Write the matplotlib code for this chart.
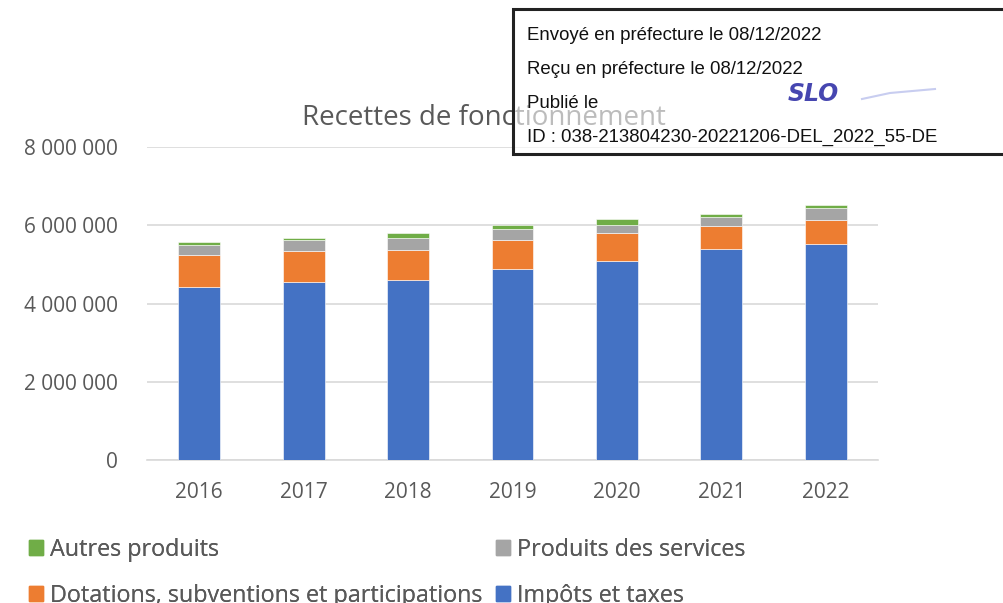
import matplotlib.pyplot as plt
from matplotlib.patches import Patch, Rectangle
import numpy as np

years = ['2016', '2017', '2018', '2019', '2020', '2021', '2022']
impots = [4420000, 4540000, 4610000, 4890000, 5090000, 5390000, 5510000]
dotations = [820000, 800000, 750000, 740000, 700000, 590000, 620000]
services = [250000, 280000, 320000, 280000, 220000, 240000, 320000]
autres = [90000, 50000, 120000, 100000, 160000, 80000, 60000]

colors = {'impots': '#4472C4', 'dotations': '#ED7D31', 'services': '#A5A5A5', 'autres': '#70AD47'}
txt = '#595959'
font = 'Open Sans'

fig = plt.figure(figsize=(10.04, 6.03), dpi=100)
ax = fig.add_axes([147 / 1004, 1 - 460 / 603, 731 / 1004, 313 / 603])

x = np.arange(len(years))
w = 0.4
b1 = np.array(impots)
b2 = b1 + np.array(dotations)
b3 = b2 + np.array(services)
ax.bar(x, impots, w, color=colors['impots'], edgecolor='white', linewidth=0.4, zorder=3)
ax.bar(x, dotations, w, bottom=b1, color=colors['dotations'], edgecolor='white', linewidth=0.4, zorder=3)
ax.bar(x, services, w, bottom=b2, color=colors['services'], edgecolor='white', linewidth=0.4, zorder=3)
ax.bar(x, autres, w, bottom=b3, color=colors['autres'], edgecolor='white', linewidth=0.4, zorder=3)

ax.set_xlim(-0.5, len(years) - 0.5)
ax.set_ylim(0, 8000000)
ax.set_yticks([0, 2000000, 4000000, 6000000, 8000000])
ax.set_yticklabels(['0', '2 000 000', '4 000 000', '6 000 000', '8 000 000'])
ax.set_xticks(x)
ax.set_xticklabels(years)
ax.grid(axis='y', color='#D9D9D9', linewidth=1.2, zorder=0)
for s in ['top', 'right', 'left']:
    ax.spines[s].set_visible(False)
ax.spines['bottom'].set_color('#D9D9D9')
ax.spines['bottom'].set_linewidth(1.2)
ax.tick_params(length=0, labelsize=15, labelcolor=txt)
ax.tick_params(axis='x', pad=16)
ax.tick_params(axis='y', pad=21)
for lab in ax.get_xticklabels() + ax.get_yticklabels():
    lab.set_fontfamily(font)

# title, partly seen through the stamp
fig.text(484 / 1004, 1 - 118 / 603, 'Recettes de fonctionnement', ha='center', va='center',
         fontsize=20, color=txt, family=font, zorder=5)

# stamp box (semi-transparent fill)
fig.add_artist(Rectangle((513 / 1004, 1 - 154 / 603), 600 / 1004, 145 / 603,
                         transform=fig.transFigure, facecolor=(1, 1, 1, 0.6), edgecolor='#222222',
                         linewidth=2.2, zorder=10))
stamp = ['Envoyé en préfecture le 08/12/2022', 'Reçu en préfecture le 08/12/2022',
         'Publié le', 'ID : 038-213804230-20221206-DEL_2022_55-DE']
for i, s in enumerate(stamp):
    fig.text(527 / 1004, 1 - (35 + i * 34.3) / 603, s, ha='left', va='center', fontsize=13.4,
             color='#111111', family='Liberation Sans', zorder=11)
fig.text(788 / 1004, 1 - 94 / 603, 'SLO', ha='left', va='center', fontsize=17, color='#4646b0',
         family='DejaVu Sans', fontweight='bold', style='italic', zorder=11)
fig.lines.append(plt.Line2D([862 / 1004, 890 / 1004, 935 / 1004], [1 - 99 / 603, 1 - 93 / 603, 1 - 89 / 603],
                            transform=fig.transFigure, color='#c8cdf0', linewidth=1.5, zorder=11))

# legend
handles1 = [Patch(color=colors['autres']), Patch(color=colors['dotations'])]
labels1 = ['Autres produits', 'Dotations, subventions et participations']
handles2 = [Patch(color=colors['services']), Patch(color=colors['impots'])]
labels2 = ['Produits des services', 'Impôts et taxes']
for hs, ls, x0 in [(handles1, labels1, 29), (handles2, labels2, 496)]:
    leg = fig.legend(hs, ls, loc='upper left', bbox_to_anchor=(x0 / 1004, 1 - 538 / 603),
                     frameon=False, prop={'family': font, 'size': 16.8}, labelcolor=txt,
                     handlelength=0.62, handleheight=0.62, handletextpad=0.3, labelspacing=0.93,
                     borderpad=0, borderaxespad=0)
    fig.add_artist(leg)

fig.savefig('out.png', dpi=100)
